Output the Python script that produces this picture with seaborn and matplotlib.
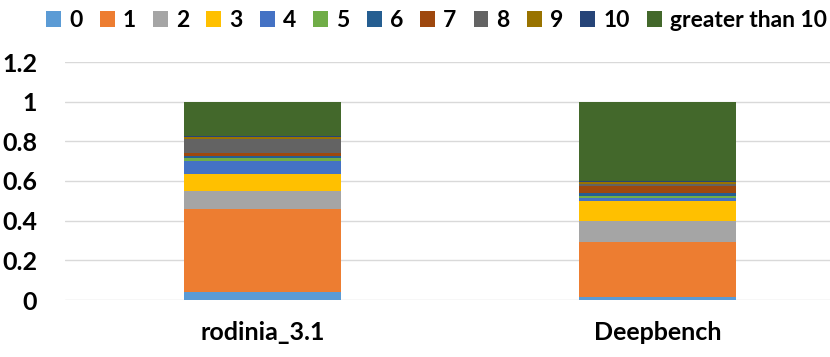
import matplotlib
matplotlib.use("Agg")
import matplotlib.pyplot as plt
import seaborn as sns
import pandas as pd
import numpy as np
from matplotlib.patches import Patch
from matplotlib.ticker import FuncFormatter

categories = ["rodinia_3.1", "Deepbench"]
series_labels = ["0", "1", "2", "3", "4", "5", "6", "7", "8", "9", "10", "greater than 10"]
rodinia = [0.040, 0.417, 0.091, 0.089, 0.064, 0.014, 0.010, 0.016, 0.069, 0.012, 0.003, 0.175]
deepbench = [0.014, 0.278, 0.104, 0.101, 0.017, 0.012, 0.012, 0.035, 0.014, 0.008, 0.005, 0.400]
colors = ["#5B9BD5", "#ED7D31", "#A5A5A5", "#FFC000", "#4472C4", "#70AD47",
          "#255E91", "#9E480E", "#636363", "#997300", "#264478", "#43682B"]
yticks = [0, 0.2, 0.4, 0.6, 0.8, 1.0, 1.2]

sns.set_theme(style="white")
plt.rcParams["font.family"] = ["Lato", "DejaVu Sans"]

fig = plt.figure(figsize=(8.3, 3.57), dpi=100)
ax = fig.add_axes([65/830, 57/357, 765/830, 238/357])

bottom = np.zeros(len(categories))
for i, lab in enumerate(series_labels):
    vals = np.array([rodinia[i], deepbench[i]])
    df = pd.DataFrame({"cat": categories, "val": vals})
    sns.barplot(data=df, x="cat", y="val", bottom=bottom, color=colors[i],
                width=0.397, ax=ax, saturation=1, linewidth=0)
    bottom = bottom + vals

ax.set_xlim(-0.501, 1.436)
ax.set_ylim(0, 1.2)
ax.set_yticks(yticks)
ax.yaxis.set_major_formatter(FuncFormatter(lambda v, p: f"{v:g}"))
ax.grid(axis="y", color="#D9D9D9", linewidth=1)
ax.set_axisbelow(True)
for s in ax.spines.values():
    s.set_visible(False)
ax.set_xlabel("")
ax.set_ylabel("")
ax.tick_params(axis="y", length=0, pad=20, labelsize=18)
ax.tick_params(axis="x", length=0, pad=15, labelsize=18)
for t in ax.get_xticklabels() + ax.get_yticklabels():
    t.set_fontweight("bold")
    t.set_color("black")

handles = [Patch(facecolor=c, edgecolor="none") for c in colors]
leg = fig.legend(handles, series_labels, loc="upper center", bbox_to_anchor=(0.526, 1.03),
                 ncol=12, frameon=False, handlelength=0.65, handleheight=0.65,
                 handletextpad=0.35, columnspacing=0.75, fontsize=16.5)
for t in leg.get_texts():
    t.set_fontweight("bold")
    t.set_color("black")

fig.savefig("out.png", dpi=100)
